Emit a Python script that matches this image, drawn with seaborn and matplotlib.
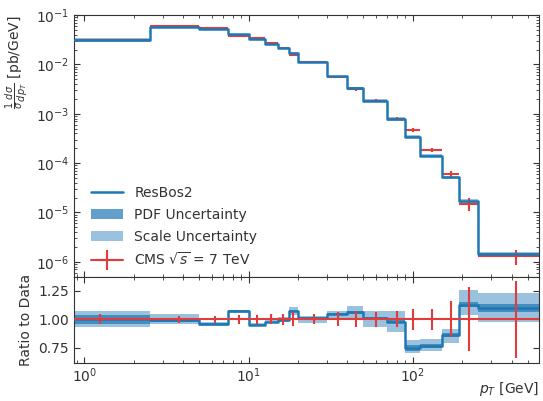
import numpy as np
import pandas as pd
import matplotlib
matplotlib.use("Agg")
import matplotlib.pyplot as plt
import seaborn as sns
from matplotlib.lines import Line2D
from matplotlib.patches import Patch
from matplotlib.ticker import LogLocator, NullFormatter, FixedLocator

# ---- data ----
bin_edges = [0, 2.5, 5, 7.5, 10, 12.5, 15, 17.5, 20, 30, 40, 50, 70, 90, 110, 150, 190, 250, 600]
data_vals = [0.0312, 0.0586, 0.0534, 0.0381, 0.0344, 0.0269, 0.0214, 0.0157, 0.01106,
             0.00555, 0.00317, 0.00183, 8.0e-4, 4.64e-4, 1.86e-4, 6.0e-5, 1.5e-5, 1.3e-6]
data_relerr = [0.045, 0.03, 0.03, 0.038, 0.038, 0.045, 0.05, 0.06, 0.045,
               0.06, 0.07, 0.065, 0.07, 0.09, 0.09, 0.16, 0.28, 0.34]
ratio_central = [1.00, 0.99, 0.957, 1.07, 0.95, 0.975, 0.99, 1.07, 1.01,
                 1.045, 1.06, 1.01, 0.975, 0.745, 0.765, 0.86, 1.13, 1.10]
pdf_lo = [0.956, 0.974, 0.95, 1.062, 0.945, 0.97, 0.985, 1.06, 1.00,
          1.035, 1.045, 1.00, 0.965, 0.725, 0.745, 0.845, 1.11, 1.06]
pdf_hi = [1.038, 1.01, 0.965, 1.078, 0.96, 0.98, 1.00, 1.085, 1.02,
          1.055, 1.075, 1.02, 0.99, 0.77, 0.785, 0.88, 1.15, 1.135]
scale_lo = [0.93, 0.959, 0.944, 1.055, 0.94, 0.965, 0.975, 1.04, 0.97,
            1.01, 1.01, 0.93, 0.885, 0.70, 0.725, 0.79, 1.04, 0.975]
scale_hi = [1.076, 1.044, 0.98, 1.085, 0.97, 0.99, 1.02, 1.11, 1.03,
            1.07, 1.12, 1.07, 1.07, 0.815, 0.83, 0.915, 1.255, 1.23]

edges = np.array(bin_edges, dtype=float)
centers = 0.5 * (edges[:-1] + edges[1:])
halfw = 0.5 * (edges[1:] - edges[:-1])
data = np.array(data_vals)
rel = np.array(data_relerr)
rc = np.array(ratio_central)
theory = data * rc

def ext(a):
    a = np.asarray(a, dtype=float)
    return np.append(a, a[-1])

BLUE = "#1f77b4"
RED = "#e03c3c"

sns.set_style("ticks")
plt.rcParams.update({
    "font.family": ["DejaVu Sans"],
    "font.size": 10,
    "xtick.direction": "in", "ytick.direction": "in",
    "xtick.top": True, "ytick.right": True,
    "xtick.color": "#333333", "ytick.color": "#333333",
    "text.color": "#333333", "axes.labelcolor": "#333333",
    "axes.edgecolor": "#333333",
    "xtick.labelsize": 10, "ytick.labelsize": 10,
    "xtick.major.size": 4, "ytick.major.size": 4,
    "xtick.minor.size": 2, "ytick.minor.size": 2,
    "xtick.major.pad": 2.5,
})

fig = plt.figure(figsize=(5.43, 4.01), dpi=100)
L, R = 0.1363, 0.9935
ax = fig.add_axes([L, 0.31, R - L, 0.9626 - 0.31])
axr = fig.add_axes([L, 0.096, R - L, 0.31 - 0.096], sharex=ax)

df_main = pd.DataFrame({"pt": edges, "val": ext(theory)})
df_ratio = pd.DataFrame({"pt": edges, "val": ext(rc)})

# main panel
ax.fill_between(edges, ext(data * np.array(scale_lo)), ext(data * np.array(scale_hi)),
                step="post", color=BLUE, alpha=0.45, lw=0)
ax.fill_between(edges, ext(data * np.array(pdf_lo)), ext(data * np.array(pdf_hi)),
                step="post", color=BLUE, alpha=0.7, lw=0)
ax.errorbar(centers, data, xerr=halfw, yerr=data * rel, fmt="none",
            ecolor=RED, elinewidth=1.5, capsize=0, zorder=2)
sns.lineplot(data=df_main, x="pt", y="val", drawstyle="steps-post",
             color=BLUE, lw=1.8, ax=ax, zorder=3)

ax.set_xscale("log")
ax.set_yscale("log")
ax.set_xlim(0.865, 590)
ax.set_ylim(5e-7, 1e-1)
ax.set_xlabel("")
ax.set_ylabel(r"$\frac{1}{\sigma}\frac{d\sigma}{dp_T}$ [pb/GeV]", loc="top")
ax.yaxis.set_major_locator(LogLocator(base=10, numticks=12))
ax.yaxis.set_minor_locator(LogLocator(base=10, subs=np.arange(2, 10), numticks=12))
ax.yaxis.set_minor_formatter(NullFormatter())
ax.tick_params(axis="x", which="both", labelbottom=False)
ax.tick_params(which="both", top=True, right=True)

handles = [
    Line2D([], [], color=BLUE, lw=1.8),
    Patch(facecolor=BLUE, alpha=0.7, lw=0),
    Patch(facecolor=BLUE, alpha=0.45, lw=0),
    Line2D([], [], color=RED, lw=1.5, marker="+", markersize=14, markeredgewidth=1.5),
]
labels = ["ResBos2", "PDF Uncertainty", "Scale Uncertainty", r"CMS $\sqrt{s}$ = 7 TeV"]
ax.legend(handles, labels, loc="lower left", frameon=False, fontsize=10,
          bbox_to_anchor=(0.01, -0.015), handlelength=2.3, labelspacing=0.55)

# ratio panel
axr.fill_between(edges, ext(scale_lo), ext(scale_hi), step="post", color=BLUE, alpha=0.45, lw=0)
axr.fill_between(edges, ext(pdf_lo), ext(pdf_hi), step="post", color=BLUE, alpha=0.7, lw=0)
sns.lineplot(data=df_ratio, x="pt", y="val", drawstyle="steps-post",
             color=BLUE, lw=1.8, ax=axr, zorder=3)
axr.errorbar(centers, np.ones_like(centers), xerr=halfw, yerr=rel, fmt="none",
             ecolor=RED, elinewidth=1.5, capsize=0, zorder=4)
axr.set_ylim(0.62, 1.375)
axr.yaxis.set_major_locator(FixedLocator([0.75, 1.0, 1.25]))
axr.set_ylabel("Ratio to Data")
axr.set_xlabel(r"$p_T$ [GeV]", loc="right", labelpad=-3)
axr.tick_params(which="both", top=True, right=True)
axr.set_xlim(0.865, 590)

fig.savefig("out.png", dpi=100)
